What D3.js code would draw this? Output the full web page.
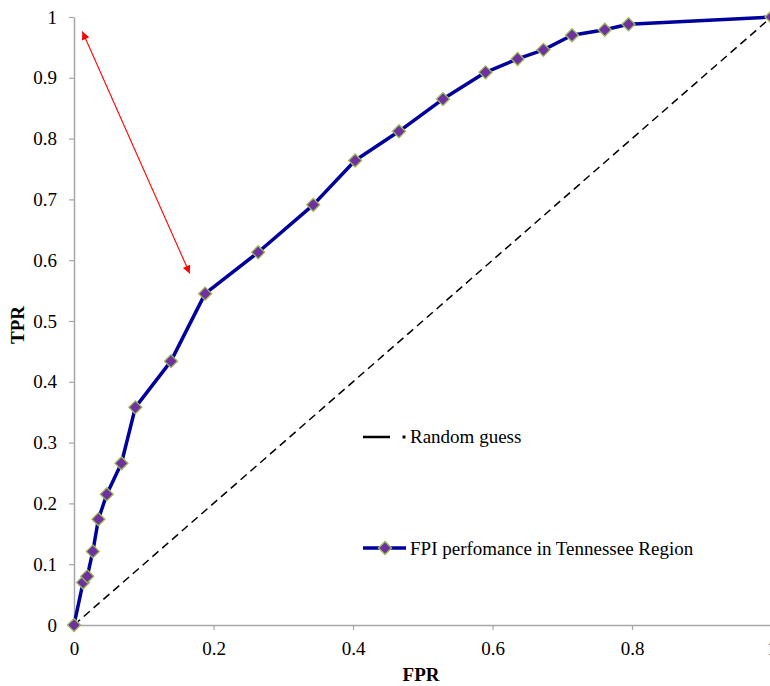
<!DOCTYPE html>
<html lang="en">
<head>
    <meta charset="utf-8">
    <script type="text/javascript" src="https://d3js.org/d3.v7.min.js"></script>
    <style>
        body { margin: 0; background: #fff; }
        svg text { font-family: "Times New Roman", "Liberation Serif", "DejaVu Serif", serif; }
    </style>
</head>
<body>
    <script type="text/javascript">
        let w = 770;
        let h = 686;
        let serif = "'Times New Roman', 'Liberation Serif', 'DejaVu Serif', serif";

        // ROC points
        let fpr = [0, 0.013, 0.019, 0.027, 0.035, 0.047, 0.068, 0.088, 0.139, 0.188, 0.264, 0.343, 0.403, 0.466, 0.529, 0.590, 0.636, 0.673, 0.714, 0.761, 0.795, 1];
        let tpr = [0, 0.070, 0.080, 0.121, 0.174, 0.215, 0.266, 0.358, 0.434, 0.545, 0.613, 0.691, 0.764, 0.812, 0.865, 0.909, 0.931, 0.946, 0.970, 0.979, 0.988, 1];
        let guess = [0, 1];
        let xTicks = [0, 0.2, 0.4, 0.6, 0.8, 1];
        let yTicks = [0, 0.1, 0.2, 0.3, 0.4, 0.5, 0.6, 0.7, 0.8, 0.9, 1];
        let legendNames = ["Random guess", "FPI perfomance in Tennessee Region"];
        // arrow annotation ends (data units)
        let arrowFrom = [0.012, 0.976];
        let arrowTo = [0.166, 0.578];

        let svg = d3.select("body").append("svg")
            .attr("width", w)
            .attr("height", h);

        let x = d3.scaleLinear().domain([0, 1]).range([74, 771.5]);
        let y = d3.scaleLinear().domain([0, 1]).range([625, 17]);

        let axisColor = "#a6a6a6";

        let xAxis = svg.append("g")
            .attr("transform", "translate(0," + y(0) + ")")
            .call(d3.axisBottom(x).tickValues(xTicks).tickSize(5).tickSizeOuter(0).tickPadding(8)
                .tickFormat(function(d) { return String(d); }));
        let yAxis = svg.append("g")
            .attr("transform", "translate(" + x(0) + ",0)")
            .call(d3.axisLeft(y).tickValues(yTicks).tickSize(5).tickSizeOuter(0).tickPadding(12)
                .tickFormat(function(d) { return String(d); }));

        [xAxis, yAxis].forEach(function(g) {
            g.attr("font-family", serif);
            g.select(".domain").attr("stroke", axisColor).attr("stroke-width", 1.5);
            g.selectAll(".tick line").attr("stroke", axisColor).attr("stroke-width", 1.2);
            g.selectAll(".tick text")
                .attr("fill", "#000")
                .style("font-family", serif)
                .style("font-size", "19px");
        });
        xAxis.selectAll(".tick text").attr("dy", "0.9em");

        // random guess diagonal
        svg.append("line")
            .attr("x1", x(guess[0])).attr("y1", y(guess[0]))
            .attr("x2", x(guess[1])).attr("y2", y(guess[1]))
            .attr("stroke", "#000")
            .attr("stroke-width", 1.5)
            .attr("stroke-dasharray", "8,5");

        // roc curve
        let pts = fpr.map(function(d, i) { return [d, tpr[i]]; });
        let line = d3.line()
            .x(function(d) { return x(d[0]); })
            .y(function(d) { return y(d[1]); });

        svg.append("path")
            .datum(pts)
            .attr("d", line)
            .attr("fill", "none")
            .attr("stroke", "#00009c")
            .attr("stroke-width", 3.5)
            .attr("stroke-linejoin", "round");

        let diamond = d3.symbol().type(d3.symbolSquare).size(85);

        svg.selectAll("path.pt")
            .data(pts)
            .join("path")
            .attr("class", "pt")
            .attr("d", diamond)
            .attr("transform", function(d) {
                return "translate(" + x(d[0]) + "," + y(d[1]) + ") rotate(45)";
            })
            .attr("fill", "#7030a0")
            .attr("stroke", "#9bbb59")
            .attr("stroke-width", 1.3);

        // red double headed arrow
        let defs = svg.append("defs");
        defs.append("marker")
            .attr("id", "arrowEnd")
            .attr("viewBox", "0 0 10 10")
            .attr("refX", 10).attr("refY", 5)
            .attr("markerWidth", 11).attr("markerHeight", 8)
            .attr("markerUnits", "userSpaceOnUse")
            .attr("orient", "auto-start-reverse")
            .append("path")
            .attr("d", "M0,0 L10,5 L0,10 Z")
            .attr("fill", "#ff0000");

        svg.append("line")
            .attr("x1", x(arrowFrom[0])).attr("y1", y(arrowFrom[1]))
            .attr("x2", x(arrowTo[0])).attr("y2", y(arrowTo[1]))
            .attr("stroke", "#ff0000")
            .attr("stroke-width", 1.1)
            .attr("marker-start", "url(#arrowEnd)")
            .attr("marker-end", "url(#arrowEnd)");

        // legend
        let lg = svg.append("g").style("font-family", serif);
        // random guess entry
        lg.append("line")
            .attr("x1", 363).attr("x2", 390).attr("y1", 437).attr("y2", 437)
            .attr("stroke", "#000").attr("stroke-width", 2.5);
        lg.append("rect")
            .attr("x", 402.5).attr("y", 435.5).attr("width", 3).attr("height", 3)
            .attr("fill", "#000");
        lg.append("text")
            .attr("x", 410).attr("y", 443)
            .style("font-family", serif)
            .style("font-size", "19px")
            .text(legendNames[0]);

        // curve entry
        lg.append("line")
            .attr("x1", 363).attr("x2", 406).attr("y1", 548).attr("y2", 548)
            .attr("stroke", "#00009c").attr("stroke-width", 3.5);
        lg.append("path")
            .attr("d", diamond)
            .attr("transform", "translate(385,548) rotate(45)")
            .attr("fill", "#7030a0")
            .attr("stroke", "#9bbb59")
            .attr("stroke-width", 1.3);
        lg.append("text")
            .attr("x", 410).attr("y", 555)
            .style("font-family", serif)
            .style("font-size", "19px")
            .text(legendNames[1]);

        // axis titles
        svg.append("text")
            .attr("x", 421).attr("y", 681)
            .attr("text-anchor", "middle")
            .style("font-family", serif)
            .style("font-size", "19px")
            .style("font-weight", "bold")
            .text("FPR");

        svg.append("text")
            .attr("transform", "translate(24,325) rotate(-90)")
            .attr("text-anchor", "middle")
            .style("font-family", serif)
            .style("font-size", "19px")
            .style("font-weight", "bold")
            .text("TPR");
    </script>
</body>
</html>
